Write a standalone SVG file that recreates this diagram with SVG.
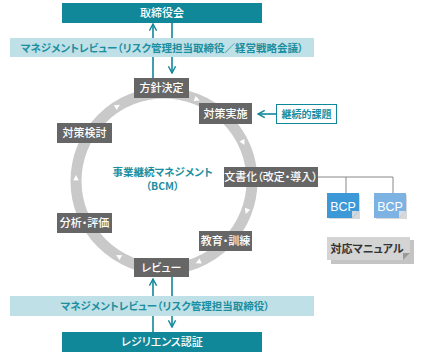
<svg xmlns="http://www.w3.org/2000/svg" xmlns:xlink="http://www.w3.org/1999/xlink" width="425" height="355" viewBox="0 0 425 355">
<style>
text{font-family:"Noto Sans CJK JP","Noto Sans",sans-serif;font-feature-settings:"palt";}
.dark{fill:#11889a;}
.band{fill:#bfe0e6;}
.wt{fill:#ffffff;font-size:11px;font-weight:500;}
.bt{fill:#1b8fa1;font-size:10.5px;font-weight:bold;}
.gbox{fill:#666666;}
.gt{fill:#ffffff;font-size:11px;font-weight:500;}
.ln{stroke:#11889a;stroke-width:1.6;fill:none;}
.cn{stroke:#888888;stroke-width:1;fill:none;}
</style>
<defs>
<marker id="chev" viewBox="0 0 10 10" refX="8.5" refY="5" markerWidth="9" markerHeight="9" markerUnits="userSpaceOnUse" orient="auto">
<path d="M1,1 L8.5,5 L1,9" fill="none" stroke="#11889a" stroke-width="1.6"/>
</marker>
<polygon id="tri" points="-2.5,-2.8 3,0 -2.5,2.8" fill="#ffffff" transform="translate(164 93)"/>
</defs>

<g id="cycle-ring">
<circle cx="164" cy="181" r="88" fill="none" stroke="#c9c9c9" stroke-width="11"/>
<use xlink:href="#tri" transform="rotate(22 164 181)"/>
<use xlink:href="#tri" transform="rotate(64 164 181)"/>
<use xlink:href="#tri" transform="rotate(110 164 181)"/>
<use xlink:href="#tri" transform="rotate(157 164 181)"/>
<use xlink:href="#tri" transform="rotate(211 164 181)"/>
<use xlink:href="#tri" transform="rotate(272 164 181)"/>
<use xlink:href="#tri" transform="rotate(328 164 181)"/>
</g>

<g id="connectors">
<line class="ln" x1="153" y1="38" x2="153" y2="24" marker-end="url(#chev)"/>
<line class="ln" x1="172" y1="23" x2="172" y2="38"/>
<line class="ln" x1="153" y1="57" x2="153" y2="78"/>
<line class="ln" x1="172" y1="57" x2="172" y2="73" marker-end="url(#chev)"/>
<line class="ln" x1="153" y1="296" x2="153" y2="279" marker-end="url(#chev)"/>
<line class="ln" x1="172" y1="277" x2="172" y2="296"/>
<line class="ln" x1="153" y1="316" x2="153" y2="332"/>
<line class="ln" x1="172" y1="316" x2="172" y2="327" marker-end="url(#chev)"/>
<line class="ln" x1="276" y1="114" x2="258" y2="114" marker-end="url(#chev)"/>
<polyline class="cn" points="318,177 393,177 393,193"/>
<line class="cn" x1="346" y1="177" x2="346" y2="193"/>
</g>

<g id="board">
<rect class="dark" x="62" y="3" width="200" height="20"/>
<text class="wt" x="162" y="17" text-anchor="middle">取締役会</text>
</g>
<g id="review-top">
<rect class="band" x="10" y="38" width="304" height="19"/>
<text class="bt" x="162" y="51.5" text-anchor="middle">マネジメントレビュー（リスク管理担当取締役／経営戦略会議）</text>
</g>
<g id="policy">
<rect class="gbox" x="134" y="78" width="55" height="20"/>
<text class="gt" x="161.5" y="92" text-anchor="middle">方針決定</text>
</g>
<g id="implement">
<rect class="gbox" x="199" y="103" width="53" height="21"/>
<text class="gt" x="225.5" y="117.5" text-anchor="middle">対策実施</text>
</g>
<g id="issues">
<rect x="276.5" y="104.5" width="60" height="19" fill="#ffffff" stroke="#11889a" stroke-width="1"/>
<text x="306.5" y="118" text-anchor="middle" style="fill:#1b8fa1;font-size:10px;font-weight:bold;">継続的課題</text>
</g>
<g id="study">
<rect class="gbox" x="57" y="123" width="55" height="20"/>
<text class="gt" x="84.5" y="137" text-anchor="middle">対策検討</text>
</g>
<g id="bcm">
<text x="162.5" y="176" text-anchor="middle" style="fill:#1b8fa1;font-size:10.5px;font-weight:bold;">事業継続マネジメント</text>
<text x="162.5" y="190" text-anchor="middle" style="fill:#1b8fa1;font-size:10.5px;font-weight:bold;">（BCM）</text>
</g>
<g id="document">
<rect class="gbox" x="224" y="167" width="94" height="20"/>
<text class="gt" x="271" y="181" text-anchor="middle">文書化（改定・導入）</text>
</g>
<g id="analysis">
<rect class="gbox" x="57" y="213" width="55" height="20"/>
<text class="gt" x="84.5" y="227" text-anchor="middle">分析・評価</text>
</g>
<g id="training">
<rect class="gbox" x="199" y="231" width="53" height="20"/>
<text class="gt" x="225.5" y="245" text-anchor="middle">教育・訓練</text>
</g>
<g id="review">
<rect class="gbox" x="134" y="258" width="55" height="19"/>
<text class="gt" x="161.5" y="271.5" text-anchor="middle">レビュー</text>
</g>
<g id="bcp1">
<rect x="329" y="195" width="31" height="24" fill="#d8d8d8"/>
<polygon points="327,193 359,193 359,211 352,218 327,218" fill="#3d98d8"/>
<polygon points="359,211 352,218 352,211" fill="#cfd8e0"/>
<text x="343" y="211" text-anchor="middle" style="fill:#ffffff;font-size:12.5px;font-family:'Liberation Sans',sans-serif;">BCP</text>
</g>
<g id="bcp2">
<rect x="376" y="195" width="31" height="24" fill="#d8d8d8"/>
<polygon points="374,193 406,193 406,211 399,218 374,218" fill="#7db3e3"/>
<polygon points="406,211 399,218 399,211" fill="#d6dde4"/>
<text x="390" y="211" text-anchor="middle" style="fill:#ffffff;font-size:12.5px;font-family:'Liberation Sans',sans-serif;">BCP</text>
</g>
<g id="manual">
<rect x="331" y="240" width="83" height="24" fill="#c4c4c4"/>
<polygon points="327,237 410,237 410,253 403,260 327,260" fill="#d4d4d4"/>
<polygon points="410,253 403,260 403,253" fill="#9a9a9a"/>
<text x="367" y="253" text-anchor="middle" style="fill:#333333;font-size:11px;font-weight:bold;">対応マニュアル</text>
</g>
<g id="review-bottom">
<rect class="band" x="10" y="296" width="304" height="20"/>
<text class="bt" x="165" y="310" text-anchor="middle">マネジメントレビュー（リスク管理担当取締役）</text>
</g>
<g id="resilience">
<rect class="dark" x="62" y="332" width="200" height="20"/>
<text class="wt" x="162" y="346" text-anchor="middle">レジリエンス認証</text>
</g>
</svg>
